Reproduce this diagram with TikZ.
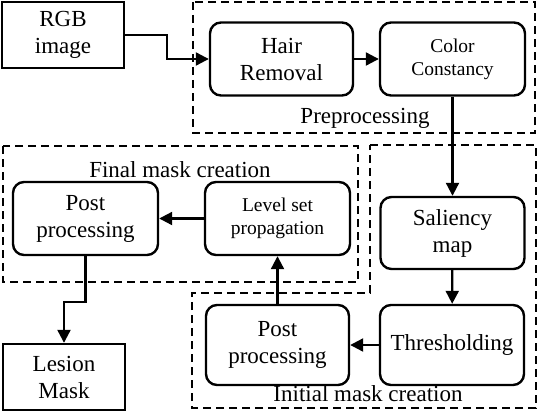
\documentclass[tikz,border=0pt]{standalone}
\usepackage{fontspec}
\setmainfont{Liberation Serif}
\usetikzlibrary{arrows.meta,calc}
\tikzset{
  bigtxt/.style={font=\fontsize{23}{27}\selectfont, align=center},
  smalltxt/.style={font=\fontsize{19.5}{23}\selectfont, align=center},
  plainbox/.style={draw, line width=2.4pt, inner sep=0pt},
  roundbox/.style={draw, line width=2.4pt, rounded corners=11pt, inner sep=0pt},
  grpbox/.style={draw, line width=2.2pt, dash pattern=on 8pt off 5pt},
  arr/.style={line width=2.2pt, -{Triangle[length=13pt,width=13pt]}},
  grplabel/.style={font=\fontsize{23}{27}\selectfont, anchor=base, inner sep=0pt}
}
\begin{document}
\begin{tikzpicture}[x=1pt,y=-1pt]
\useasboundingbox (0,0) rectangle (538,412);
% group boxes
\draw[grpbox] (193,2) rectangle (535,133);
\draw[grpbox] (3,146) rectangle (358,282);
\draw[grpbox] (370,145) -- (536,145) -- (536,408) -- (192,408) -- (192,293) -- (370,293) -- cycle;
\node[grplabel] (lpre) at (365,123) {Preprocessing};
\node[grplabel] (lfin) at (180,177) {Final mask creation};
\node[grplabel] (lini) at (368,401) {Initial mask creation};
% nodes
\node[plainbox, bigtxt, minimum width=122pt, minimum height=66pt] (rgb) at (63,35) {RGB\\image};
\node[roundbox, bigtxt, minimum width=143pt, minimum height=73pt] (hair) at (281.5,59) {Hair\\Removal};
\node[roundbox, smalltxt, minimum width=145pt, minimum height=73pt] (color) at (452.5,59) {Color\\Constancy};
\node[roundbox, bigtxt, minimum width=144pt, minimum height=72pt] (sal) at (452.5,233) {Saliency\\map};
\node[roundbox, bigtxt, minimum width=144pt, minimum height=80pt] (thr) at (452,345) {Thresholding};
\node[roundbox, bigtxt, minimum width=143pt, minimum height=80pt] (ipost) at (277.5,345) {Post\\processing};
\node[roundbox, smalltxt, minimum width=145pt, minimum height=73pt] (lvl) at (277.5,218.5) {Level set\\propagation};
\node[roundbox, bigtxt, minimum width=145pt, minimum height=73pt] (fpost) at (85.5,218.5) {Post\\processing};
\node[plainbox, bigtxt, minimum width=122pt, minimum height=66pt] (lesion) at (64,377) {Lesion\\Mask};
% connectors
\draw[arr] (rgb.east) -| ($(rgb.east)!.5!(hair.west)$) |- (hair.west);
\draw[arr] (hair) -- (color);
\draw[arr] (color) -- (sal);
\draw[arr] (sal) -- (thr);
\draw[arr] (thr) -- (ipost);
\draw[arr] (ipost) -- (lvl);
\draw[arr] (lvl) -- (fpost);
\draw[arr] (fpost.south) -- +(0,46) -| (lesion.north);
\end{tikzpicture}
\end{document}
